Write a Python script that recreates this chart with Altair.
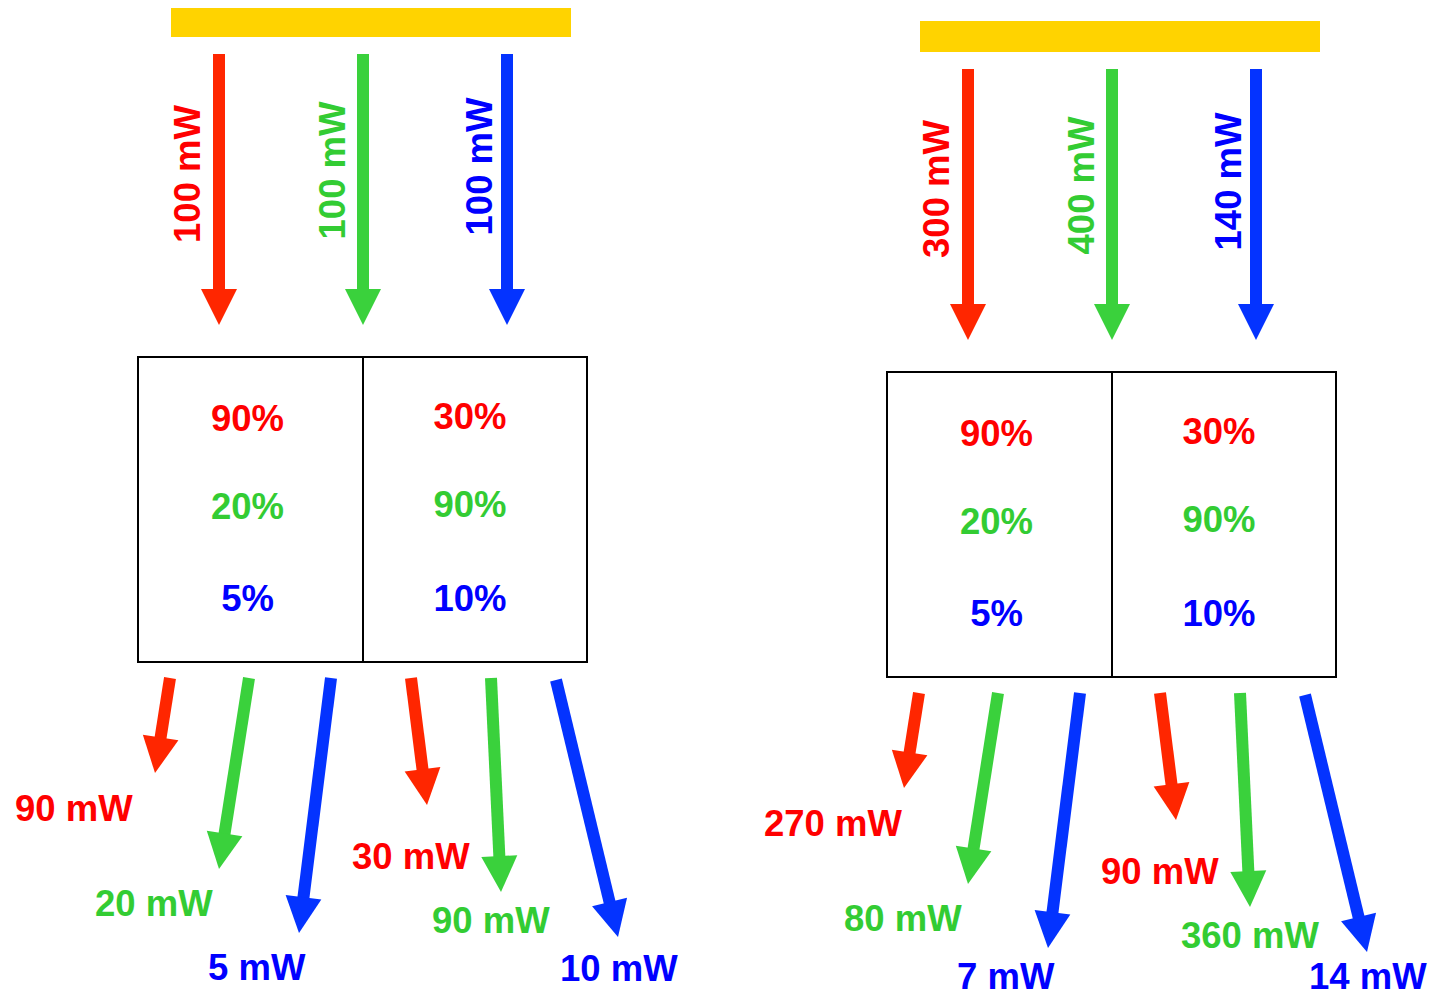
import math
import altair as alt
import pandas as pd

# ---------------- values ----------------
channels = ["red", "green", "blue"]
incoming_left = [100, 100, 100]          # mW
incoming_right = [300, 400, 140]         # mW
filter_a_pct = [90, 20, 5]               # % transmitted, left half of each box
filter_b_pct = [30, 90, 10]              # % transmitted, right half of each box
out_left_a = [90, 20, 5]                 # mW
out_left_b = [30, 90, 10]
out_right_a = [270, 80, 7]
out_right_b = [90, 360, 14]

# ---------------- styling ----------------
arrow_colors = {"red": "#FF2600", "green": "#3AD13C", "blue": "#0433FF"}
text_colors = {"red": "#FF0000", "green": "#33CC33", "blue": "#0000FF"}
yellow = "#FFD300"
FONT = "Liberation Sans"
FS = 36.5
SHAFT_W = 12
HEAD = 36  # arrow head width / length in px
TEXT_DY = 2  # visual centring of glyphs
BOTTOM_LIMIT = 978  # keep label centres clear of the page edge

# ---------------- layout (page pixel coordinates) ----------------
panel_offsets = [(0, 0), (749, 15)]
bar = (171, 571, 6, 37)
in_x = [219, 363, 507]
in_tail_y, in_tip_y = 54, 325
in_label_pos = [(188.5, 174), (334, 170.5), (481, 166.5)]
box_x = [138, 363, 587]
box_y = (357, 662)
pct_col_x = [247.5, 470]
pct_rows = [[418, 506, 598], [416, 504, 598]]
out_arrows = [
    [((170, 678), (155, 773)), ((249, 678), (219, 869)), ((331, 678), (299, 933))],
    [((411, 678), (427, 805)), ((491, 678), (501, 892)), ((556, 680), (618, 937))],
]
out_label_pos = [
    [(15, 808), (95, 903), (208, 967)],
    [(352, 855.5), (432, 920), (560, 967.5)],
]

incoming = [incoming_left, incoming_right]
outputs = [[out_left_a, out_left_b], [out_right_a, out_right_b]]
filters = [filter_a_pct, filter_b_pct]

bars, cells, shafts, heads, rot_labels, pct_labels, out_labels = [], [], [], [], [], [], []


def add_arrow(x0, y0, x1, y1, color):
    dx, dy = x1 - x0, y1 - y0
    L = math.hypot(dx, dy)
    ux, uy = dx / L, dy / L
    shafts.append(dict(x=x0, y=y0, x2=x1 - ux * (HEAD - 3), y2=y1 - uy * (HEAD - 3), color=color))
    ang = math.degrees(math.atan2(-dx, dy)) % 360
    heads.append(dict(x=x1 - ux * HEAD / 2, y=y1 - uy * HEAD / 2, angle=ang, color=color))


for p, (ox, oy) in enumerate(panel_offsets):
    bars.append(dict(x=bar[0] + ox, x2=bar[1] + ox, y=bar[2] + oy, y2=bar[3] + oy))
    for c in range(2):
        cells.append(dict(x=box_x[c] + ox, x2=box_x[c + 1] + ox, y=box_y[0] + oy, y2=box_y[1] + oy))
    for i, ch in enumerate(channels):
        add_arrow(in_x[i] + ox, in_tail_y + oy, in_x[i] + ox, in_tip_y + oy, arrow_colors[ch])
        lx, ly = in_label_pos[i]
        rot_labels.append(dict(x=lx + ox, y=ly + oy, text=f"{incoming[p][i]} mW", color=text_colors[ch]))
        for c in range(2):
            pct_labels.append(dict(x=pct_col_x[c] + ox, y=pct_rows[c][i] + oy + TEXT_DY,
                                   text=f"{filters[c][i]}%", color=text_colors[ch]))
            (tx, ty), (hx, hy) = out_arrows[c][i]
            add_arrow(tx + ox, ty + oy, hx + ox, hy + oy, arrow_colors[ch])
            bx, by = out_label_pos[c][i]
            out_labels.append(dict(x=bx + ox, y=min(by + oy + TEXT_DY, BOTTOM_LIMIT),
                                   text=f"{outputs[p][c][i]} mW", color=text_colors[ch]))

W, H = 1423, 991
xs = alt.Scale(domain=[8, 8 + W], nice=False, zero=False)
ys = alt.Scale(domain=[8, 8 + H], nice=False, zero=False, reverse=True)
X = alt.X("x:Q", scale=xs, axis=None)
Y = alt.Y("y:Q", scale=ys, axis=None)

bar_layer = alt.Chart(pd.DataFrame(bars)).mark_rect(color=yellow).encode(
    x=X, x2="x2:Q", y=Y, y2="y2:Q")
cell_layer = alt.Chart(pd.DataFrame(cells)).mark_rect(
    fill="white", fillOpacity=0, stroke="black", strokeWidth=2).encode(
    x=X, x2="x2:Q", y=Y, y2="y2:Q")
shaft_layer = alt.Chart(pd.DataFrame(shafts)).mark_rule(strokeWidth=SHAFT_W, strokeCap="butt").encode(
    x=X, y=Y, x2="x2:Q", y2="y2:Q", color=alt.Color("color:N", scale=None))
head_layer = alt.Chart(pd.DataFrame(heads)).mark_point(
    shape="M-1,-1L1,-1L0,1Z", filled=True, size=HEAD * HEAD, opacity=1, strokeWidth=0).encode(
    x=X, y=Y, angle=alt.Angle("angle:Q", scale=None), color=alt.Color("color:N", scale=None))
rot_layer = alt.Chart(pd.DataFrame(rot_labels)).mark_text(
    angle=270, align="center", baseline="middle", font=FONT, fontWeight="bold", fontSize=FS).encode(
    x=X, y=Y, text="text:N", color=alt.Color("color:N", scale=None))
pct_layer = alt.Chart(pd.DataFrame(pct_labels)).mark_text(
    align="center", baseline="middle", font=FONT, fontWeight="bold", fontSize=FS).encode(
    x=X, y=Y, text="text:N", color=alt.Color("color:N", scale=None))
out_layer = alt.Chart(pd.DataFrame(out_labels)).mark_text(
    align="left", baseline="middle", font=FONT, fontWeight="bold", fontSize=FS).encode(
    x=X, y=Y, text="text:N", color=alt.Color("color:N", scale=None))

chart = alt.layer(
    bar_layer, cell_layer, shaft_layer, head_layer, rot_layer, pct_layer, out_layer
).properties(
    width=W, height=H, padding=0, autosize=alt.AutoSizeParams(type="none"), background="white"
).configure_view(stroke=None)

chart.save("out.html", embed_options={"renderer": "svg", "actions": False})
